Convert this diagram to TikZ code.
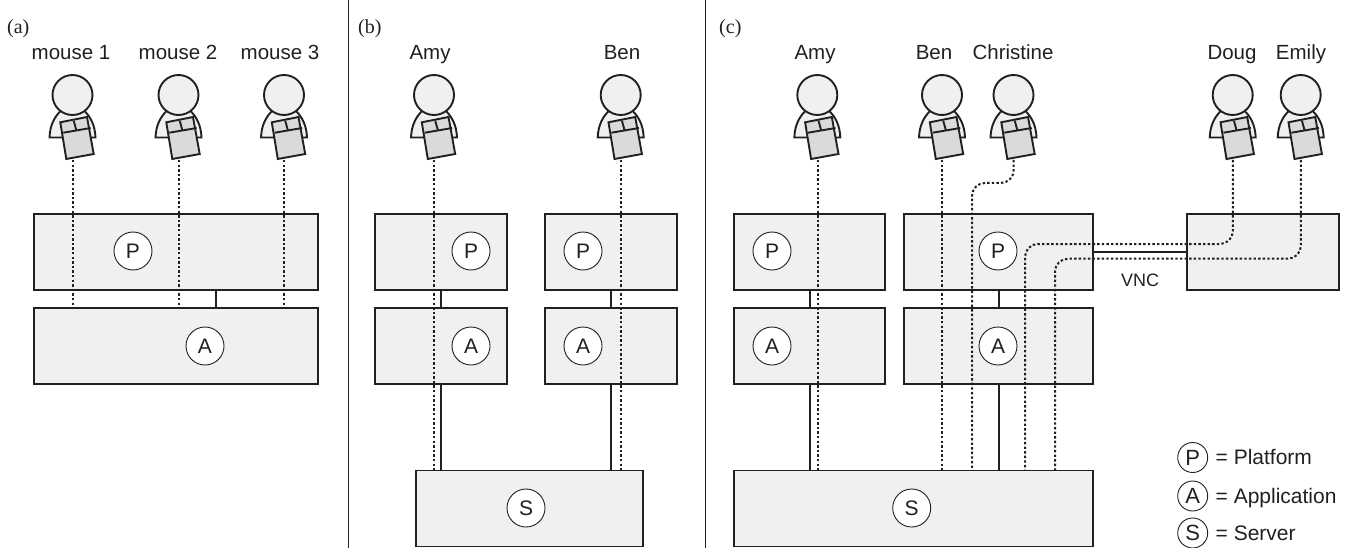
\documentclass[tikz,border=0pt]{standalone}
\usepackage{fontspec}
\setmainfont{Liberation Sans}
\newfontfamily\serifcap{Liberation Serif}
\definecolor{ink}{HTML}{231F20}
\definecolor{boxfill}{HTML}{F0F0F0}
\definecolor{mousefill}{HTML}{D9DADB}
\tikzset{
  boxnode/.style={draw=ink,fill=boxfill,line width=1.9pt,inner sep=0pt,rectangle},
  tag/.style={draw=ink,fill=white,circle,line width=0.9pt,minimum size=38pt,inner sep=0pt,text=ink,font=\fontsize{21}{23}\selectfont},
  legtag/.style={draw=ink,circle,line width=0.9pt,minimum size=30pt,inner sep=0pt,text=ink,font=\fontsize{22}{24}\selectfont},
  who/.style={text=ink,font=\fontsize{20.5}{23}\selectfont,inner sep=0pt,anchor=base},
  leg/.style={text=ink,font=\fontsize{21}{23}\selectfont,inner sep=0pt,anchor=base west},
  panel/.style={text=ink,font=\serifcap\fontsize{20}{22}\selectfont,inner sep=0pt,anchor=base west},
  wire/.style={draw=ink,line width=2pt},
  dotwire/.style={draw=ink,line width=2pt,dash pattern=on 2.4pt off 2.2pt,rounded corners=13pt},
  rule/.style={draw=ink,line width=1pt},
  figline/.style={draw=ink,line width=1.9pt,line join=miter},
}
% person figure: #1 = name of the coordinate at the foot of the mouse, #2 = x
\newcommand{\personfig}[2]{%
  \begin{scope}[shift={(#2,95)}]
    \path[figline,fill=boxfill] (-23,42.5) .. controls (-22.5,30) and (-18,22) .. (-12,16) -- (12,16) .. controls (18,22) and (22.5,30) .. (23,42.5) -- cycle;
    \path[figline,fill=boxfill] (0,0) circle (20);
    \path[figline,fill=mousefill] (-12.2,27.3) -- (14.5,22) -- (21.2,59) -- (-6.2,64) -- cycle;
    \path[figline] (-9.2,37.7) -- (18.2,33);
    \path[figline] (1.2,25.7) -- (3.8,35);
    \coordinate (#1) at (0.2,65);
  \end{scope}}
\begin{document}
\begin{tikzpicture}[x=1pt,y=-1pt]
\useasboundingbox (0,0) rectangle (1351,548);
\coordinate (r1t) at (348,0); \coordinate (r1b) at (348,548);
\coordinate (r2t) at (705,0); \coordinate (r2b) at (705,548);
\draw[rule] (r1t) -- (r1b);
\draw[rule] (r2t) -- (r2b);

\node[panel] (la) at (7,34) {(a)};
\node[panel] (lb) at (358,34) {(b)};
\node[panel] (lc) at (719,34) {(c)};

% boxes (a)
\node[boxnode,minimum width=284pt,minimum height=76pt] (aP) at (176,252) {};
\node[boxnode,minimum width=284pt,minimum height=76pt] (aA) at (176,346) {};
% boxes (b)
\node[boxnode,minimum width=132.5pt,minimum height=76pt] (bP1) at (441,252) {};
\node[boxnode,minimum width=132.5pt,minimum height=76pt] (bA1) at (441,346) {};
\node[boxnode,minimum width=132.5pt,minimum height=76pt] (bP2) at (611,252) {};
\node[boxnode,minimum width=132.5pt,minimum height=76pt] (bA2) at (611,346) {};
\node[boxnode,minimum width=227pt,minimum height=76pt] (bS) at (529.5,508.5) {};
% boxes (c)
\node[boxnode,minimum width=151.5pt,minimum height=76pt] (cP1) at (809.5,252) {};
\node[boxnode,minimum width=151.5pt,minimum height=76pt] (cA1) at (809.5,346) {};
\node[boxnode,minimum width=189pt,minimum height=76pt] (cP2) at (998.5,252) {};
\node[boxnode,minimum width=189pt,minimum height=76pt] (cA2) at (998.5,346) {};
\node[boxnode,minimum width=151.5pt,minimum height=76pt] (cV) at (1263,252) {};
\node[boxnode,minimum width=359pt,minimum height=76pt] (cS) at (913.5,508.5) {};

% solid links
\draw[wire] (aP.south -| 216,0) -- (aA.north -| 216,0);
\draw[wire] (bP1.south) -- (bA1.north);
\draw[wire] (bA1.south) -- (bA1.south |- bS.north);
\draw[wire] (bP2.south) -- (bA2.north);
\draw[wire] (bA2.south) -- (bA2.south |- bS.north);
\draw[wire] (cP1.south) -- (cA1.north);
\draw[wire] (cA1.south) -- (cA1.south |- cS.north);
\draw[wire] (cP2.south) -- (cA2.north);
\draw[wire] (cA2.south) -- (cA2.south |- cS.north);
\draw[wire] (cP2.east |- 0,251.7) -- (cV.west |- 0,251.7);

% people
\personfig{m1}{72.5}
\personfig{m2}{178.5}
\personfig{m3}{284}
\personfig{ba}{434}
\personfig{bb}{620.7}
\personfig{ca}{817.3}
\personfig{cb}{942}
\personfig{cc}{1013.5}
\personfig{cd}{1232.7}
\personfig{ce}{1300.7}

% dotted links
\draw[dotwire] (m1) -- (m1 |- aA.north);
\draw[dotwire] (m2) -- (m2 |- aA.north);
\draw[dotwire] (m3) -- (m3 |- aA.north);
\draw[dotwire] (ba) -- (ba |- bS.north);
\draw[dotwire] (bb) -- (bb |- bS.north);
\draw[dotwire] (ca) -- (ca |- cS.north);
\draw[dotwire] (cb) -- (cb |- cS.north);
\draw[dotwire] (cc) -- (cc |- 0,183) -- (972,183) -- (972,470.5);
\draw[dotwire] (cd) -- (cd |- 0,244) -- (1025,244) -- (1025,470.5);
\draw[dotwire] (ce) -- (ce |- 0,258.7) -- (1055,258.7) -- (1055,470.5);

% tags
\node[tag] (tp1) at (133,251) {P};
\node[tag] (ta1) at (205,346) {A};
\node[tag] (tp2) at (471,251) {P};
\node[tag] (ta2) at (471,346) {A};
\node[tag] (tp3) at (583,251) {P};
\node[tag] (ta3) at (583,346) {A};
\node[tag] (ts1) at (526,508) {S};
\node[tag] (tp4) at (772,251) {P};
\node[tag] (ta4) at (772,346) {A};
\node[tag] (tp5) at (998,251) {P};
\node[tag] (ta5) at (998,346) {A};
\node[tag] (ts2) at (911.7,508) {S};

% names
\node[who] (n1) at (71,60) {mouse 1};
\node[who] (n2) at (178,60) {mouse 2};
\node[who] (n3) at (280,60) {mouse 3};
\node[who] (n4) at (430,60) {Amy};
\node[who] (n5) at (622,60) {Ben};
\node[who] (n6) at (815,60) {Amy};
\node[who] (n7) at (934,60) {Ben};
\node[who] (n8) at (1013,60) {Christine};
\node[who] (n9) at (1232,60) {Doug};
\node[who] (n10) at (1301,60) {Emily};
\node[text=ink,font=\fontsize{18}{20}\selectfont,inner sep=0pt] (vnc) at (1140,280) {VNC};

% legend
\node[legtag] (lp) at (1192.7,457.5) {P};
\node[legtag] (ls1) at (1192.7,496) {A};
\node[legtag] (ls2) at (1192.7,533) {S};
\node[leg] (tp) at (1215.5,464.5) {= Platform};
\node[leg] (tap) at (1215.5,503) {= Application};
\node[leg] (tse) at (1215.5,540) {= Server};
\end{tikzpicture}
\end{document}
